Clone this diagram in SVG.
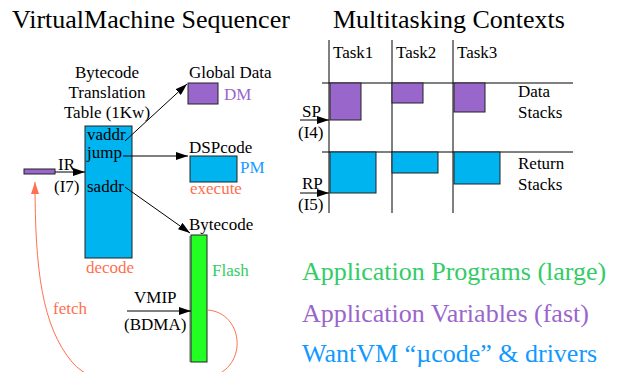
<svg xmlns="http://www.w3.org/2000/svg" width="617" height="372" viewBox="0 0 617 372">
  <style>
    text { font-family: "Liberation Serif", "Times New Roman", serif; fill: #000; }
    .title { font-size: 26px; }
    .lbl { font-size: 17px; }
    .big { font-size: 26px; }
    .orange { fill: #ff7050; }
    .purple { fill: #9966cc; }
    .blue { fill: #1a9cff; }
    .green { fill: #33cc66; }
    .stk { stroke: #222; stroke-width: 1; }
    .grid { stroke: #000; stroke-width: 1; fill: none; }
    .arrow { stroke: #000; stroke-width: 1; fill: none; marker-end: url(#head); }
  </style>
  <defs>
    <marker id="head" viewBox="0 0 12 8" refX="12" refY="4" markerWidth="12" markerHeight="8" markerUnits="userSpaceOnUse" orient="auto">
      <path d="M0,0 L12,4 L0,8 Z" fill="#000"/>
    </marker>
    <marker id="headOrange" viewBox="0 0 12 8" refX="12" refY="4" markerWidth="12" markerHeight="8" markerUnits="userSpaceOnUse" orient="auto">
      <path d="M0,0 L12,4 L0,8 Z" fill="#ff7050"/>
    </marker>
  </defs>

  <!-- Titles -->
  <text class="title" x="12" y="28">VirtualMachine Sequencer</text>
  <text class="title" x="333" y="28">Multitasking Contexts</text>

  <!-- Sequencer nodes -->
  <g id="translation-table">
    <text class="lbl" x="107" y="78" text-anchor="middle">Bytecode</text>
    <text class="lbl" x="107" y="98" text-anchor="middle">Translation</text>
    <text class="lbl" x="107" y="118" text-anchor="middle">Table (1Kw)</text>
    <rect x="85" y="126" width="47" height="132" fill="#00b4f0" class="stk"/>
    <text class="lbl" x="87" y="140">vaddr</text>
    <text class="lbl" x="87" y="158">jump</text>
    <text class="lbl" x="87" y="192">saddr</text>
    <text class="lbl orange" x="86" y="273">decode</text>
  </g>

  <g id="ir">
    <rect x="24" y="169" width="31" height="5" fill="#9966cc" class="stk"/>
    <text class="lbl" x="58" y="170">IR</text>
    <text class="lbl" x="54" y="192">(I7)</text>
  </g>

  <g id="global-data">
    <text class="lbl" x="189" y="78">Global Data</text>
    <rect x="188" y="83" width="30" height="21" fill="#9966cc" class="stk"/>
    <text class="lbl purple" x="224" y="100">DM</text>
  </g>

  <g id="dspcode">
    <text class="lbl" x="189" y="153">DSPcode</text>
    <rect x="190" y="156" width="47" height="26" fill="#00b4f0" class="stk"/>
    <text class="lbl blue" x="240" y="173">PM</text>
    <text class="lbl orange" x="190" y="194">execute</text>
  </g>

  <g id="bytecode-flash">
    <text class="lbl" x="189" y="230">Bytecode</text>
    <line x1="190" y1="236" x2="190" y2="362" stroke="#999" stroke-width="1.5"/>
    <rect x="191" y="235" width="16" height="127" fill="#22ff22" class="stk"/>
    <text class="lbl green" x="212" y="276">Flash</text>
  </g>

  <g id="vmip">
    <text class="lbl" x="134" y="303">VMIP</text>
    <text class="lbl" x="124" y="330">(BDMA)</text>
  </g>

  <!-- Multitasking contexts -->
  <g id="task-grid">
    <line class="grid" x1="329" y1="40" x2="329" y2="213"/>
    <line class="grid" x1="392" y1="40" x2="392" y2="213"/>
    <line class="grid" x1="453" y1="40" x2="453" y2="213"/>
    <line class="grid" x1="322" y1="83" x2="573" y2="83"/>
    <line class="grid" x1="322" y1="152" x2="573" y2="152"/>
    <text class="lbl" x="333" y="58">Task1</text>
    <text class="lbl" x="396" y="58">Task2</text>
    <text class="lbl" x="457" y="58">Task3</text>
  </g>

  <g id="data-stacks">
    <rect x="330" y="83" width="31" height="37" fill="#9966cc" class="stk"/>
    <rect x="392" y="83" width="31" height="20" fill="#9966cc" class="stk"/>
    <rect x="454" y="83" width="31" height="29" fill="#9966cc" class="stk"/>
    <text class="lbl" x="518" y="97">Data</text>
    <text class="lbl" x="518" y="118">Stacks</text>
    <text class="lbl" x="302" y="117">SP</text>
    <text class="lbl" x="298" y="138">(I4)</text>
  </g>

  <g id="return-stacks">
    <rect x="330" y="152" width="46" height="41" fill="#00b4f0" class="stk"/>
    <rect x="392" y="152" width="46" height="21" fill="#00b4f0" class="stk"/>
    <rect x="454" y="152" width="46" height="32" fill="#00b4f0" class="stk"/>
    <text class="lbl" x="518" y="169">Return</text>
    <text class="lbl" x="518" y="190">Stacks</text>
    <text class="lbl" x="302" y="189">RP</text>
    <text class="lbl" x="298" y="210">(I5)</text>
  </g>

  <!-- Legend -->
  <g id="legend">
    <text class="big green" x="302" y="280">Application Programs (large)</text>
    <text class="big purple" x="302" y="322">Application Variables (fast)</text>
    <text class="big" x="302" y="362" style="fill:#1199ff">WantVM “µcode” &amp; drivers</text>
  </g>

  <!-- Connectors -->
  <g id="connectors">
    <line class="arrow" x1="55" y1="172" x2="85" y2="172"/>
    <line class="arrow" x1="125" y1="141" x2="187" y2="84"/>
    <line class="arrow" x1="123" y1="156" x2="188" y2="156"/>
    <line class="arrow" x1="125" y1="187" x2="190" y2="233"/>
    <line class="arrow" x1="127" y1="311" x2="191" y2="311"/>
    <line class="arrow" x1="300" y1="120" x2="329" y2="120"/>
    <line class="arrow" x1="300" y1="193" x2="329" y2="193"/>
    <path d="M207,310 C245,312 250,372 205,378 C150,386 95,390 72,362 C42,326 35,270 35,182" fill="none" stroke="#ff7050" stroke-width="1" marker-end="url(#headOrange)"/>
    <text class="lbl orange" x="53" y="314">fetch</text>
  </g>
</svg>
